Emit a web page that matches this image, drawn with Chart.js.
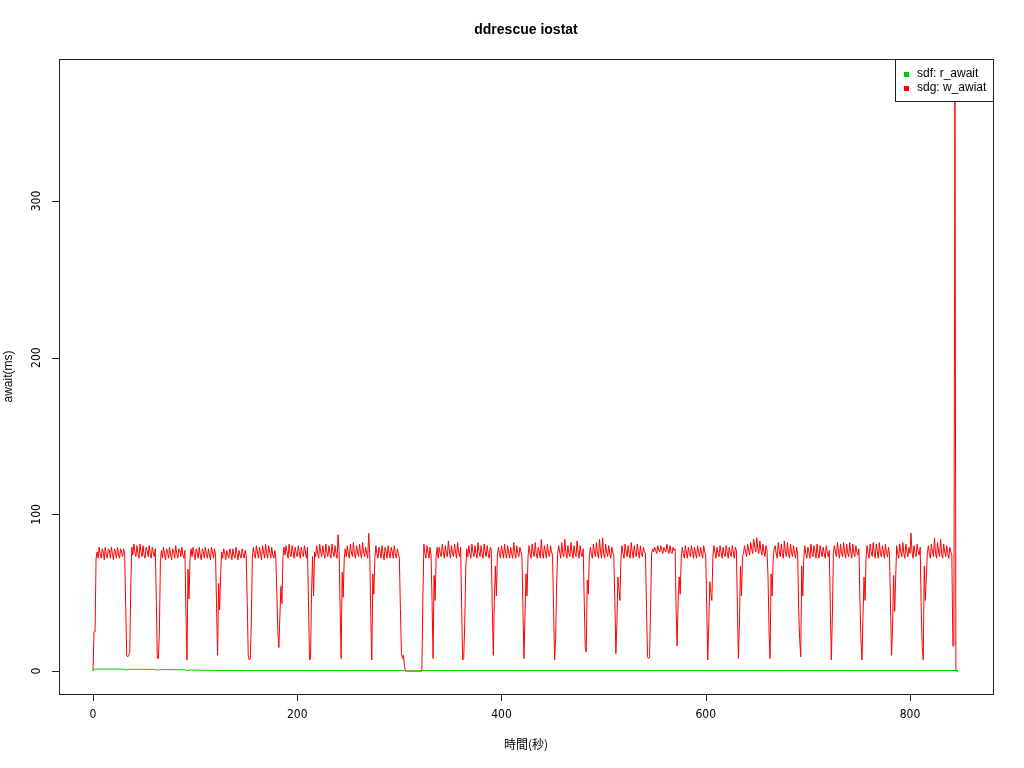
<!DOCTYPE html>
<html lang="ja">
<head>
    <meta charset="UTF-8">
    <title>ddrescue iostat</title>
    <script src="https://cdn.jsdelivr.net/npm/chart.js"></script>
    <style>
        body { margin: 0; background: #fff; }
        canvas { display: block; }
    </style>
</head>
<body>
    <canvas id="ioChart" width="1024" height="768"></canvas>

    <script>
        // sdg w_await, one value per second (t = 0 .. 847), one row per write burst
        var sdgWAwait = [
            0,25,25,72, 76,72,79,75,72,78,76,71,79,74,72,78,77,72,79,75,71,78,76,72,79,74,72,78,76,73,78,75,
            42,10,9,10,12,55, 79,74,81,76,73,80,75,72,81,76,73,80,74,72,79,77,73,80,75,72,79,76,73,78,
            45,8,8,25,70, 77,72,79,75,71,78,76,72,79,74,71,78,76,72,80,75,72,78,77,73,79,74,72,77,
            38,7,65,46,72,78, 73,79,75,71,78,76,72,79,74,71,78,76,72,79,75,72,78,74,71,79,76,72,78,74,
            40,10,56,39,62,76, 72,78,75,71,77,74,72,78,75,71,78,74,72,79,75,71,77,74,72,78,75,72,77,74,
            45,10,7,8,30,72, 79,75,72,80,76,72,79,75,71,80,76,72,81,75,72,80,76,72,79,74,72,77,
            72,50,25,15,35,54,43,73,79, 74,80,76,72,81,75,73,80,76,72,79,75,73,80,76,72,79,75,73,80,76,72,79,
            45,7,8,50,73,48, 76,73,80,75,72,81,76,73,80,75,72,81,76,73,80,75,72,81,76,73,80,75,72,87,76,
            40,8,63,47,72, 78,73,80,75,72,81,76,73,82,75,72,80,76,73,81,75,72,82,76,73,79,75,72,88,
            75,35,7,62,49,72, 80,75,72,79,76,72,80,75,71,79,76,72,80,75,72,79,76,72,80,75,72,78,75,72,
            40,12,8,10,3, 0,0,0,0,0,0,0,0,0,0, 0,0,0,0,0,0,0, 45, 81,75,72,80,76,72,79,74,
            45,8,61,45,73,79, 72,79,75,73,81,76,72,80,75,73,83,76,72,80,75,73,81,76,72,82,76,73,79,
            40,7,8,30,65, 78,73,80,75,72,81,76,73,80,75,72,82,76,73,80,75,72,81,76,73,80,75,72,79,77,
            40,10,45,67,48,74, 79,75,72,80,76,72,81,75,72,80,76,72,79,75,72,82,76,72,80,75,73,79,76,74,
            40,8,35,62,48,73, 80,75,72,81,76,73,82,75,72,79,76,72,84,75,72,80,76,72,81,75,73,80,76,74,
            40,7,20,55, 75,80,76,72,82,75,73,84,76,72,80,75,73,82,76,72,80,75,73,83,76,72,80,75,73,78,
            45,15,12,58,49,73, 79,75,72,81,76,73,82,75,72,84,76,72,85,75,72,81,76,73,80,75,72,79,76,73,
            45,11,30,60,52,45,72, 80,75,72,81,76,73,80,75,72,82,76,72,80,75,73,81,76,72,80,75,73,79,76,75,
            40,9,8,9,40,75, 78,76,79,77,75,80,77,76,80,77,75,79,77,76,81,77,75,80,76,75,79,77,78,
            40,16,45,60,49,72, 79,75,72,80,76,72,79,75,73,80,76,72,79,75,72,80,76,73,79,75,72,80,76,74,
            40,7,30,57,50,45, 73,80,76,72,79,75,73,80,76,72,79,75,73,80,76,72,79,75,73,80,76,72,79,77,
            40,8,30,67,48,73, 75,80,76,73,81,77,74,82,78,75,84,79,76,85,78,75,83,77,74,81,76,73,80,77,
            60,25,8,62,48,70,78, 80,75,72,82,76,73,81,75,72,83,76,73,82,75,72,81,76,73,80,75,72,79,75,
            40,20,9,67,48,72, 80,75,72,79,76,72,81,75,73,80,76,72,81,75,72,80,76,73,79,75,72,80,76,73,77,
            40,7,35, 75,80,76,73,82,76,72,81,75,73,82,76,72,81,75,73,82,76,72,81,75,73,80,76,74,78,
            45,20,7,35,60,45,72, 80,75,72,81,76,73,82,75,72,81,76,72,82,75,73,80,76,72,81,75,73,79,74,
            40,10,30,61,38,60, 80,75,72,81,76,73,82,75,72,81,76,73,79,75,88,76,72,80,75,73,81,76,74,79,
            40,15,7,67,45,60,75, 80,75,72,81,76,73,85,75,72,82,76,73,84,75,72,81,76,73,80,75,72,79,76,74,
            16,16,375,0,0,0
        ];

        // sdf r_await stays close to zero
        var sdfTimes  = [0, 1, 30, 33, 35, 60, 63, 65, 90, 92, 94, 110, 150, 200, 300, 305, 306, 322, 323, 400, 500, 600, 700, 800, 847];
        var sdfRAwait = [0, 1.2, 1.2, 0.6, 1.1, 1.0, 0.5, 0.9, 0.8, 0.3, 0.6, 0.4, 0.3, 0.3, 0.3, 0.2, 0, 0, 0.3, 0.3, 0.3, 0.3, 0.3, 0.3, 0.3];

        var seriesNames = ['sdf: r_await', 'sdg: w_awiat'];
        var seriesColors = ['#00CD00', '#FF0000'];
        var xTicks = [0, 200, 400, 600, 800];
        var yTicks = [0, 100, 200, 300];
        var xRange = [-33.3, 881.3];
        var yRange = [-14.68, 390.64];

        var labelFont = '12px "Liberation Sans", Arial, sans-serif';
        var tickFont = '12px "Liberation Sans Narrow", "DejaVu Sans Condensed", sans-serif';

        // R style frame, ticks, titles and legend
        var rFrame = {
            id: 'rFrame',
            afterDatasetsDraw: function (chart) {
                var ctx = chart.ctx;
                var a = chart.chartArea;
                var xs = chart.scales.x;
                var ys = chart.scales.y;
                ctx.save();
                ctx.strokeStyle = '#222';
                ctx.fillStyle = '#000';
                ctx.lineWidth = 1;

                // legend (opaque, covers the spike)
                var lx = Math.round(a.right) - 98;
                ctx.fillStyle = '#fff';
                ctx.fillRect(lx + 0.5, a.top + 0.5, a.right - lx, 42);
                ctx.strokeRect(lx + 0.5, a.top + 0.5, a.right - lx, 42);
                ctx.font = labelFont;
                ctx.textBaseline = 'middle';
                ctx.textAlign = 'left';
                chart.data.datasets.forEach(function (ds, i) {
                    var cy = a.top + 15 + i * 14;
                    ctx.fillStyle = ds.borderColor;
                    ctx.fillRect(lx + 9, cy - 2, 5, 5);
                    ctx.fillStyle = '#000';
                    ctx.fillText(ds.label, lx + 22, cy);
                });

                // plot box
                ctx.strokeRect(Math.round(a.left) + 0.5, Math.round(a.top) + 0.5,
                    Math.round(a.right - a.left), Math.round(a.bottom - a.top));

                // x axis ticks
                ctx.font = tickFont;
                ctx.textAlign = 'center';
                ctx.beginPath();
                xTicks.forEach(function (v) {
                    var px = Math.round(xs.getPixelForValue(v)) + 0.5;
                    ctx.moveTo(px, a.bottom);
                    ctx.lineTo(px, a.bottom + 7);
                });
                ctx.stroke();
                xTicks.forEach(function (v) {
                    ctx.fillText(String(v), xs.getPixelForValue(v), a.bottom + 21);
                });

                // y axis ticks, labels turned like R's default las=0
                ctx.beginPath();
                yTicks.forEach(function (v) {
                    var py = Math.round(ys.getPixelForValue(v)) + 0.5;
                    ctx.moveTo(a.left, py);
                    ctx.lineTo(a.left - 7, py);
                });
                ctx.stroke();
                yTicks.forEach(function (v) {
                    ctx.save();
                    ctx.translate(a.left - 22, ys.getPixelForValue(v));
                    ctx.rotate(-Math.PI / 2);
                    ctx.fillText(String(v), 0, 0);
                    ctx.restore();
                });

                // titles
                var cx = (a.left + a.right) / 2;
                ctx.font = 'bold 14px "Liberation Sans", Arial, sans-serif';
                ctx.fillText('ddrescue iostat', cx, 30);
                ctx.font = '12px "Noto Sans CJK JP", sans-serif';
                ctx.fillText('時間(秒)', cx, 744);
                ctx.save();
                ctx.font = labelFont;
                ctx.translate(9, (a.top + a.bottom) / 2);
                ctx.rotate(-Math.PI / 2);
                ctx.fillText('await(ms)', 0, 0);
                ctx.restore();

                ctx.restore();
            }
        };

        document.addEventListener("DOMContentLoaded", function () {
            var ctx = document.getElementById("ioChart").getContext("2d");

            var greenPoints = sdfTimes.map(function (t, i) { return { x: t, y: sdfRAwait[i] }; });
            var redPoints = sdgWAwait.map(function (v, i) { return { x: i, y: v }; });

            new Chart(ctx, {
                type: 'line',
                data: {
                    datasets: [{
                        label: seriesNames[0],
                        data: greenPoints,
                        borderColor: seriesColors[0],
                        backgroundColor: seriesColors[0],
                        borderWidth: 1,
                        pointRadius: 0,
                        tension: 0
                    }, {
                        label: seriesNames[1],
                        data: redPoints,
                        borderColor: seriesColors[1],
                        backgroundColor: seriesColors[1],
                        borderWidth: 1,
                        pointRadius: 0,
                        tension: 0
                    }]
                },
                options: {
                    responsive: false,
                    animation: false,
                    devicePixelRatio: 1,
                    layout: { padding: { top: 59, right: 31, left: 0, bottom: 0 } },
                    plugins: {
                        legend: { display: false },
                        title: { display: false },
                        tooltip: { enabled: false }
                    },
                    scales: {
                        x: {
                            type: 'linear',
                            min: xRange[0],
                            max: xRange[1],
                            ticks: { display: false },
                            grid: { display: false },
                            border: { display: false },
                            afterFit: function (s) { s.height = 74; }
                        },
                        y: {
                            type: 'linear',
                            min: yRange[0],
                            max: yRange[1],
                            ticks: { display: false },
                            grid: { display: false },
                            border: { display: false },
                            afterFit: function (s) { s.width = 59; }
                        }
                    }
                },
                plugins: [rFrame]
            });
        });
    </script>
</body>
</html>
